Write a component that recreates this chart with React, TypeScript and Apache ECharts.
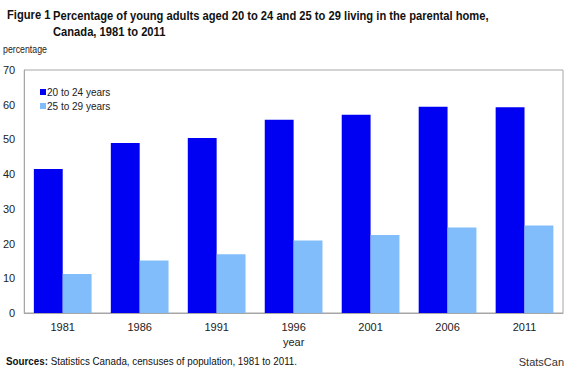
import React, { useEffect, useRef } from "react";
import * as echarts from "echarts";

const categories = ["1981", "1986", "1991", "1996", "2001", "2006", "2011"];
const series20to24 = [41.5, 49.0, 50.4, 55.7, 57.1, 59.4, 59.3];
const series25to29 = [11.2, 15.1, 16.9, 20.9, 22.5, 24.6, 25.2];
const seriesNames = ["20 to 24 years", "25 to 29 years"];
const yTicks = { min: 0, max: 70, interval: 10 };

const FONT = "'Liberation Sans', Arial, sans-serif";

export default function App() {
  const ref = useRef<HTMLDivElement>(null);
  useEffect(() => {
    if (!ref.current) return;
    const chart = echarts.init(ref.current, undefined, { renderer: "svg" });
    chart.setOption({
      animation: false,
      backgroundColor: "#ffffff",
      textStyle: { fontFamily: FONT },
      grid: {
        left: 24,
        top: 70,
        right: 7,
        bottom: 56,
        show: true,
        borderColor: "#a6a6a6",
        borderWidth: 1,
      },
      legend: {
        orient: "vertical",
        left: 35,
        top: 82,
        itemWidth: 6,
        itemHeight: 6,
        itemGap: 4,
        icon: "rect",
        textStyle: { fontSize: 10, color: "#222", fontFamily: FONT, padding: [0, 0, 0, -4] },
        data: seriesNames,
      },
      xAxis: {
        type: "category",
        data: categories,
        axisLine: { show: true, lineStyle: { color: "#a6a6a6" } },
        axisTick: { show: false },
        axisLabel: { fontSize: 11, color: "#222", margin: 8, fontFamily: FONT },
        name: "year",
        nameLocation: "middle",
        nameGap: 22,
        nameTextStyle: { fontSize: 11, color: "#222", fontFamily: FONT },
      },
      yAxis: {
        type: "value",
        min: yTicks.min,
        max: yTicks.max,
        interval: yTicks.interval,
        splitLine: { show: false },
        axisLine: { show: true, lineStyle: { color: "#a6a6a6" } },
        axisTick: { show: false },
        axisLabel: { fontSize: 11, color: "#222", margin: 9, fontFamily: FONT },
      },
      series: [
        {
          name: seriesNames[0],
          type: "bar",
          data: series20to24,
          itemStyle: { color: "#0000f2" },
          barGap: "0%",
          barCategoryGap: "25%",
        },
        {
          name: seriesNames[1],
          type: "bar",
          data: series25to29,
          itemStyle: { color: "#80bdfa" },
          barGap: "0%",
          barCategoryGap: "25%",
        },
      ],
      graphic: [
        {
          type: "text",
          x: 7,
          y: 8,
          scaleX: 0.86,
          style: { text: "Figure 1", fontSize: 13, fontWeight: "bold", fill: "#111", fontFamily: FONT },
        },
        {
          type: "text",
          x: 53,
          y: 8,
          scaleX: 0.86,
          style: {
            text: "Percentage of young adults aged 20 to 24 and 25 to 29 living in the parental home,\nCanada, 1981 to 2011",
            fontSize: 13,
            fontWeight: "bold",
            fill: "#111",
            lineHeight: 16,
            fontFamily: FONT,
          },
        },
        {
          type: "text",
          x: 3,
          y: 44,
          scaleX: 0.88,
          style: { text: "percentage", fontSize: 10, fill: "#222", fontFamily: FONT },
        },
        {
          type: "text",
          x: 6,
          y: 356,
          scaleX: 0.98,
          style: {
            text: "{b|Sources:} Statistics Canada, censuses of population, 1981 to 2011.",
            fontSize: 10,
            fill: "#111",
            fontFamily: FONT,
            rich: { b: { fontWeight: "bold", fontSize: 10, fill: "#111", fontFamily: FONT } },
          },
        },
        {
          type: "text",
          right: 6,
          top: 356,
          style: { text: "StatsCan", fontSize: 11, fill: "#333", fontFamily: FONT },
        },
      ],
    });
    return () => chart.dispose();
  }, []);
  return <div ref={ref} style={{ width: 570, height: 369, position: "absolute", left: 0, top: 0 }} />;
}
